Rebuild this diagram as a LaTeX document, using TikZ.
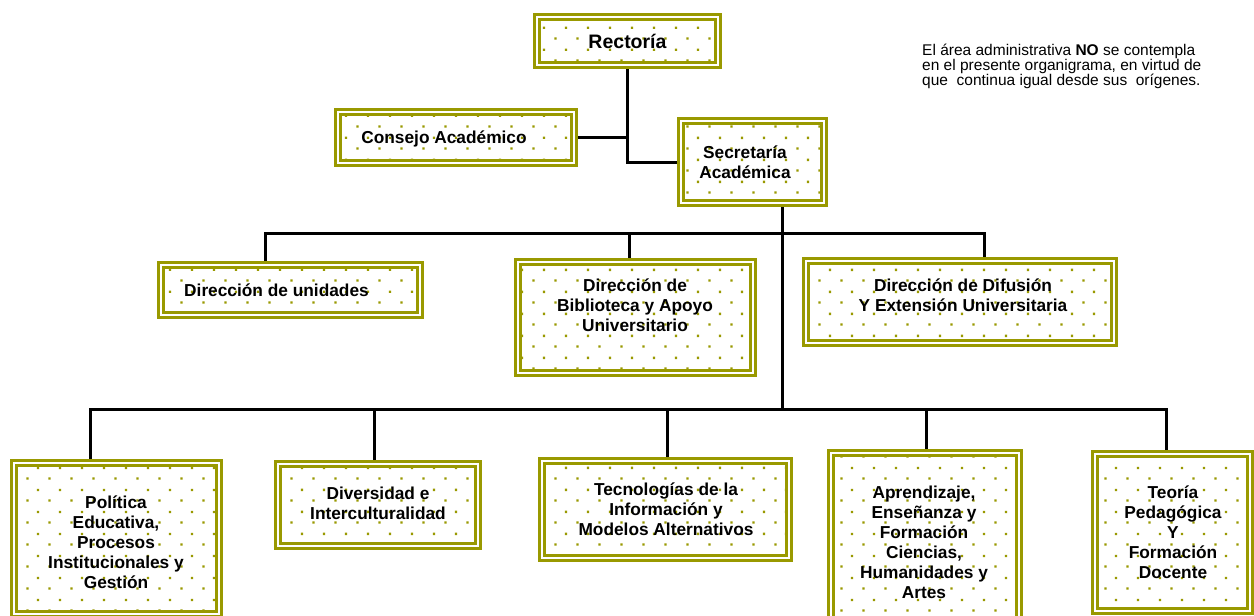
\documentclass[tikz,border=0pt]{standalone}
\usepackage{fontspec}
\setmainfont{Liberation Sans}
\usetikzlibrary{calc,backgrounds,patterns}
\definecolor{ol}{RGB}{153,153,0}
\pgfdeclarepatternformonly{olivedots}{\pgfpointorigin}{\pgfpoint{22pt}{22pt}}{\pgfpoint{22pt}{22pt}}{%
  \pgfpathrectangle{\pgfpoint{4.5pt}{4.5pt}}{\pgfpoint{2.4pt}{2.4pt}}%
  \pgfpathrectangle{\pgfpoint{15.5pt}{15.5pt}}{\pgfpoint{2.4pt}{2.4pt}}%
  \pgfusepath{fill}}
\tikzset{
  orgbox/.style={rectangle, draw=ol, line width=3pt, double=white, double distance=2pt,
    preaction={fill=white}, pattern=olivedots, pattern color=ol, inner sep=0pt, outer sep=0pt},
  lbl/.style={font=\bfseries\fontsize{17.3}{20}\selectfont, align=center, inner sep=0pt},
  conn/.style={draw=black, line width=3pt},
}
\begin{document}
\begin{tikzpicture}[x=1pt,y=-1pt]
\useasboundingbox (0,0) rectangle (1254,616);
\clip (0,0) rectangle (1254,616);
% boxes
\node[orgbox, minimum width=181pt, minimum height=48pt] (rect) at (627.5,41) {};
\node[orgbox, minimum width=236pt, minimum height=51pt] (cons) at (456,137.5) {};
\node[orgbox, minimum width=143pt, minimum height=82pt] (sec) at (752.5,162) {};
\node[orgbox, minimum width=259pt, minimum height=50pt] (unid) at (290.5,290) {};
\node[orgbox, minimum width=235pt, minimum height=111pt] (bibl) at (635.5,317.5) {};
\node[orgbox, minimum width=308pt, minimum height=82pt] (difu) at (960,302) {};
\node[orgbox, minimum width=205pt, minimum height=151pt] (poli) at (116.5,538.5) {};
\node[orgbox, minimum width=200pt, minimum height=82pt] (dive) at (378,505) {};
\node[orgbox, minimum width=247pt, minimum height=97pt] (tecn) at (665.5,509.5) {};
\node[orgbox, minimum width=188pt, minimum height=179pt] (apre) at (925,542.5) {};
\node[orgbox, minimum width=155pt, minimum height=157pt] (teor) at (1172.5,532.5) {};
% labels
\node[lbl, font=\bfseries\fontsize{19.5}{22}\selectfont] (rect-t) at (627.5,41) {Rectoría};
\node[lbl] (cons-t) at (444,139) {Consejo Académico};
\node[lbl] (sec-t) at (745,162) {Secretaría\\Académica};
\node[lbl] (unid-t) at (276.5,290) {Dirección de unidades};
\node[lbl] (bibl-t) at (635,305) {Dirección de\\Biblioteca y Apoyo\\Universitario};
\node[lbl] (difu-t) at (963,295) {Dirección de Difusión\\Y Extensión Universitaria};
\node[lbl] (poli-t) at (116,542) {Política\\Educativa,\\Procesos\\Institucionales y\\Gestión};
\node[lbl] (dive-t) at (378,503) {Diversidad e\\Interculturalidad};
\node[lbl] (tecn-t) at (666,509.5) {Tecnologías de la\\Información y\\Modelos Alternativos};
\node[lbl] (apre-t) at (924,542.5) {Aprendizaje,\\Enseñanza y\\Formación\\Ciencias,\\Humanidades y\\Artes};
\node[lbl] (teor-t) at (1173,532.5) {Teoría\\Pedagógica\\Y\\Formación\\Docente};
% note
\node[anchor=base west, align=left, inner sep=0pt, font=\fontsize{15.5}{15}\selectfont] (note) at (922,85)
  {El área administrativa \textbf{NO} se contempla\\en el presente organigrama, en virtud de\\que\ \ continua igual desde sus\ \ orígenes.};
% connectors
\begin{scope}[on background layer]
\draw[conn] (rect.south) |- (sec.west);
\draw[conn] (cons.east) -- (cons.east -| rect.south);
\coordinate (ub) at (782,233);
\coordinate (lb) at (782,409);
\draw[conn] (sec.south -| ub) -- (lb);
\coordinate (d1) at ($(unid.north)+(-25.5,0)$);
\coordinate (d2) at ($(bibl.north)+(-6.5,0)$);
\coordinate (d3) at ($(difu.north)+(24,0)$);
\draw[conn] (d1) |- (ub) -| (d3);
\draw[conn] (d2) -- (d2 |- ub);
\coordinate (e1) at ($(poli.north)+(-26.5,0)$);
\coordinate (e2) at ($(dive.north)+(-4,0)$);
\coordinate (e3) at ($(tecn.north)+(1.5,0)$);
\coordinate (e4) at ($(apre.north)+(1,0)$);
\coordinate (e5) at ($(teor.north)+(-6.5,0)$);
\draw[conn] (e1) |- (lb) -| (e5);
\draw[conn] (e2) -- (e2 |- lb);
\draw[conn] (e3) -- (e3 |- lb);
\draw[conn] (e4) -- (e4 |- lb);
\end{scope}
\end{tikzpicture}
\end{document}
